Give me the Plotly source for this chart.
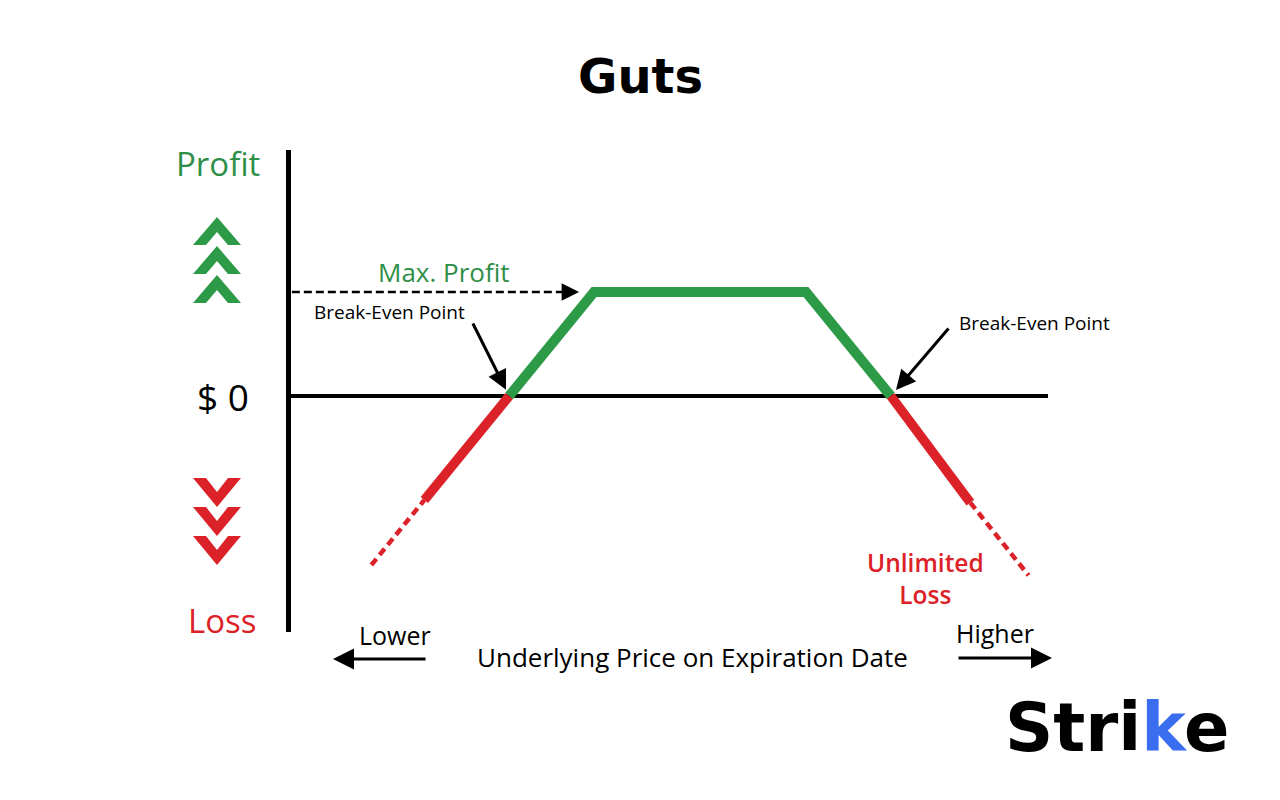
import plotly.graph_objects as go

# ---- data (price on expiration vs. profit/loss) ----
profit_price = [82, 90, 110, 118]
profit_pl = [0, 8, 8, 0]
loss_left_price = [74, 82]
loss_left_pl = [-8, 0]
loss_left_ext_price = [69, 74]
loss_left_ext_pl = [-13, -8]
loss_right_price = [118, 125.5]
loss_right_pl = [0, -8.2]
loss_right_ext_price = [125.5, 131]
loss_right_ext_pl = [-8.2, -13.8]
max_profit_level = 8
max_profit_price = 88.6
axis_start_price = 61.5
break_even_prices = [82, 118]

GREEN = "#2d9a48"
GREEN_TXT = "#2f8f47"
RED = "#dc2229"
FONT = "Open Sans"

OFF = 8  # page body margin
W, H = 1280 - OFF, 800 - OFF
# plot area edges in screen pixels
SL, SR, ST, SB = 291, 1048, 150, 632
L, R, T, B = SL - OFF, SR - OFF, ST - OFF, SB - OFF


def px(xs):
    return (xs - SL) / (SR - SL)


def py(ys):
    return (SB - ys) / (SB - ST)


fig = go.Figure()

fig.add_trace(go.Scatter(x=[axis_start_price, max_profit_price - 1.2],
                         y=[max_profit_level, max_profit_level], mode="lines",
                         line=dict(color="black", width=2.5, dash="8px,4px"),
                         hoverinfo="skip"))
fig.add_trace(go.Scatter(x=loss_left_ext_price, y=loss_left_ext_pl, mode="lines",
                         line=dict(color=RED, width=4.5, dash="8px,5px"), hoverinfo="skip"))
fig.add_trace(go.Scatter(x=loss_right_ext_price, y=loss_right_ext_pl, mode="lines",
                         line=dict(color=RED, width=4.5, dash="8px,5px"), hoverinfo="skip"))
fig.add_trace(go.Scatter(x=profit_price, y=profit_pl, mode="lines",
                         line=dict(color=GREEN, width=10), hoverinfo="skip"))
fig.add_trace(go.Scatter(x=loss_left_price, y=loss_left_pl, mode="lines",
                         line=dict(color=RED, width=9.5), hoverinfo="skip"))
fig.add_trace(go.Scatter(x=loss_right_price, y=loss_right_pl, mode="lines",
                         line=dict(color=RED, width=9.5), hoverinfo="skip"))

ann = []
# Max profit arrowhead
ann.append(dict(x=max_profit_price, y=max_profit_level, xref="x", yref="y", text="",
                showarrow=True, arrowhead=2, arrowsize=1.4, arrowwidth=2.5,
                arrowcolor="black", ax=-16, ay=0, standoff=0))
# Break-even arrows
ann.append(dict(x=break_even_prices[0], y=0, xref="x", yref="y", text="",
                showarrow=True, arrowhead=2, arrowsize=1.3, arrowwidth=3,
                arrowcolor="black", ax=-37, ay=-74, standoff=7))
ann.append(dict(x=break_even_prices[1], y=0, xref="x", yref="y", text="",
                showarrow=True, arrowhead=2, arrowsize=1.3, arrowwidth=3,
                arrowcolor="black", ax=59, ay=-69, standoff=8))
# Lower / Higher arrows
ann.append(dict(x=px(333), y=py(659), xref="paper", yref="paper", text="",
                showarrow=True, arrowhead=2, arrowsize=1.4, arrowwidth=3,
                arrowcolor="black", ax=94, ay=0, standoff=0))
ann.append(dict(x=px(1052), y=py(658), xref="paper", yref="paper", text="",
                showarrow=True, arrowhead=2, arrowsize=1.4, arrowwidth=3,
                arrowcolor="black", ax=-95, ay=0, standoff=0))


def txt(x, y, s, size, color="black", weight=400, family=FONT):
    ann.append(dict(x=px(x), y=py(y), xref="paper", yref="paper", text=s,
                    showarrow=False, xanchor="center", yanchor="middle",
                    font=dict(family=family, size=size, color=color, weight=weight)))


txt(640, 76, "Guts", 48, weight=700, family="DejaVu Sans")
txt(218, 163, "Profit", 33, GREEN_TXT)
txt(222, 620, "Loss", 33, RED)
txt(223, 396, "$ 0", 37)
txt(444, 272, "Max. Profit", 26, GREEN_TXT)
txt(389, 312, "Break-Even Point", 19)
txt(1034, 323, "Break-Even Point", 19)
ann.append(dict(x=px(925), y=py(578), xref="paper", yref="paper",
                text="Unlimited<br>Loss", showarrow=False, xanchor="center",
                yanchor="middle", align="center",
                font=dict(family=FONT, size=24.5, color=RED, weight=600)))
txt(395, 635, "Lower", 25)
txt(995, 633, "Higher", 25)
txt(692, 657, "Underlying Price on Expiration Date", 26)
txt(1117, 728, "Stri<span style='color:#3a6df0'>k</span>e", 67, weight=700,
    family="DejaVu Sans")

shapes = []


def chevron_up(cx, top):
    pts = [(cx - 24, top + 28), (cx, top), (cx + 24, top + 28),
           (cx + 11, top + 28), (cx, top + 15), (cx - 11, top + 28)]
    return "M " + " L ".join(f"{px(a):.5f},{py(b):.5f}" for a, b in pts) + " Z"


def chevron_down(cx, top):
    pts = [(cx - 24, top), (cx, top + 29), (cx + 24, top),
           (cx + 11, top), (cx, top + 14), (cx - 11, top)]
    return "M " + " L ".join(f"{px(a):.5f},{py(b):.5f}" for a, b in pts) + " Z"


for t in [217, 246, 275]:
    shapes.append(dict(type="path", xref="paper", yref="paper", path=chevron_up(217, t),
                       fillcolor=GREEN, line=dict(width=0)))
for t in [478, 507, 536]:
    shapes.append(dict(type="path", xref="paper", yref="paper", path=chevron_down(217, t),
                       fillcolor=RED, line=dict(width=0)))

fig.update_layout(
    width=W, height=H,
    margin=dict(l=L, r=W - R, t=T, b=H - B),
    paper_bgcolor="white", plot_bgcolor="white",
    showlegend=False,
    annotations=ann, shapes=shapes,
    xaxis=dict(range=[61.42, 132.83], visible=False, fixedrange=True),
    yaxis=dict(range=[-18.154, 18.923], showgrid=False, showticklabels=False, ticks="",
               zeroline=True, zerolinecolor="black", zerolinewidth=4,
               showline=True, linecolor="black", linewidth=5, fixedrange=True),
)

fig.write_html("out.html", config={"displayModeBar": False})
